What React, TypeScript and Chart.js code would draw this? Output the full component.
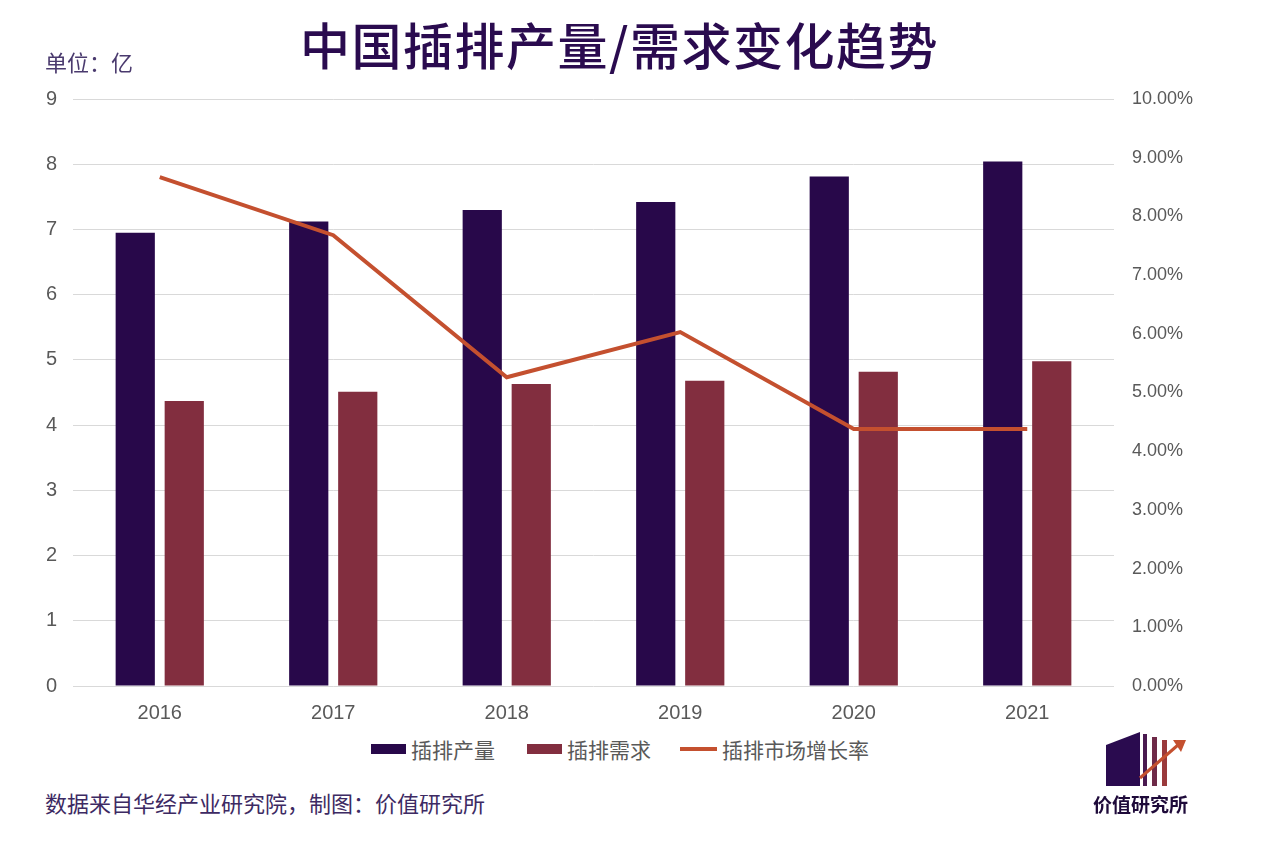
import { useEffect, useRef } from "react"
import { Chart, registerables } from "chart.js"

Chart.register(...registerables)

const years = ["2016", "2017", "2018", "2019", "2020", "2021"]
const output = [6.95, 7.12, 7.3, 7.42, 7.81, 8.04]
const demand = [4.37, 4.51, 4.63, 4.68, 4.82, 4.98]
const growth = [8.67, 7.68, 5.26, 6.03, 4.38, 4.38]

const outputColor = "#28084a"
const demandColor = "#822e3f"
const lineColor = "#c4502f"
const tickColor = "#595959"
const cjk = '"Noto Sans CJK SC", sans-serif'
const latin = '"Liberation Sans", Arial, sans-serif'

function GrowthChart() {
  const chartRef = useRef<HTMLCanvasElement>(null)
  const chartInstance = useRef<Chart | null>(null)

  useEffect(() => {
    if (!chartRef.current) return
    if (chartInstance.current) chartInstance.current.destroy()
    const ctx = chartRef.current.getContext("2d")
    if (!ctx) return

    chartInstance.current = new Chart(ctx, {
      type: "bar",
      data: {
        labels: years,
        datasets: [
          {
            type: "line",
            label: "插排市场增长率",
            data: growth,
            yAxisID: "y1",
            borderColor: lineColor,
            backgroundColor: lineColor,
            borderWidth: 4,
            pointRadius: 0,
            tension: 0,
            order: 0,
          },
          {
            label: "插排产量",
            data: output,
            yAxisID: "y",
            backgroundColor: outputColor,
            categoryPercentage: 0.565,
            barPercentage: 0.8,
            order: 1,
          },
          {
            label: "插排需求",
            data: demand,
            yAxisID: "y",
            backgroundColor: demandColor,
            categoryPercentage: 0.565,
            barPercentage: 0.8,
            order: 1,
          },
        ],
      },
      options: {
        responsive: false,
        animation: false,
        layout: { padding: { top: 99, left: 0, right: 0, bottom: 0 } },
        plugins: {
          legend: { display: false },
          tooltip: { enabled: false },
        },
        scales: {
          x: {
            grid: { display: false },
            border: { display: false },
            ticks: {
              color: tickColor,
              padding: 7,
              font: { family: latin, size: 20 },
            },
            afterFit: (scale) => {
              scale.height = 44
            },
          },
          y: {
            position: "left",
            min: 0,
            max: 9,
            grid: { color: "#d9d9d9", lineWidth: 1, drawTicks: false },
            border: { display: false },
            ticks: {
              stepSize: 1,
              color: tickColor,
              padding: 16,
              font: { family: latin, size: 20 },
            },
            afterFit: (scale) => {
              scale.width = 73
            },
          },
          y1: {
            position: "right",
            min: 0,
            max: 10,
            grid: { display: false, drawTicks: false },
            border: { display: false },
            ticks: {
              stepSize: 1,
              color: tickColor,
              padding: 18,
              font: { family: latin, size: 18 },
              callback: (v) => Number(v).toFixed(2) + "%",
            },
            afterFit: (scale) => {
              scale.width = 159
            },
          },
        },
      },
    })

    return () => {
      if (chartInstance.current) {
        chartInstance.current.destroy()
        chartInstance.current = null
      }
    }
  }, [])

  return (
    <canvas
      ref={chartRef}
      width={1273}
      height={730}
      style={{ position: "absolute", left: 0, top: 0, width: 1273, height: 730 }}
    />
  )
}

function Logo() {
  return (
    <div style={{ position: "absolute", left: 1088, top: 728, width: 110, height: 90 }}>
      <svg width="110" height="62" viewBox="0 0 110 62">
        <polygon points="18,17 52,4 52,58 18,58" fill="#2a0b4f" />
        <rect x="55" y="6" width="4" height="52" fill="#4a1a50" />
        <rect x="64" y="9" width="5" height="49" fill="#6e2a48" />
        <rect x="74" y="12" width="5" height="46" fill="#9a3a3c" />
        <line x1="52" y1="50" x2="90" y2="17" stroke="#c4502f" strokeWidth="3" />
        <polygon points="85,12 98,12 93,24" fill="#c4502f" />
      </svg>
      <div
        style={{
          fontFamily: cjk,
          fontWeight: 700,
          fontSize: 19,
          lineHeight: 1,
          color: "#1e0a3a",
          marginLeft: 5,
        }}
      >
        价值研究所
      </div>
    </div>
  )
}

function LegendItem({ left, color, label, line }: { left: number; color: string; label: string; line?: boolean }) {
  return (
    <div style={{ position: "absolute", left, top: 735, height: 28, display: "flex", alignItems: "center" }}>
      <span
        style={{
          display: "inline-block",
          width: line ? 37 : 35,
          height: line ? 4 : 10,
          background: color,
          marginRight: 5,
        }}
      />
      <span style={{ fontFamily: cjk, fontSize: 21, color: tickColor, lineHeight: 1 }}>{label}</span>
    </div>
  )
}

export default function App() {
  return (
    <div
      style={{
        position: "absolute",
        left: 0,
        top: 0,
        width: 1273,
        height: 841,
        background: "#ffffff",
        overflow: "hidden",
      }}
    >
      <GrowthChart />
      <div
        style={{
          position: "absolute",
          left: 300,
          top: 18,
          fontFamily: cjk,
          fontWeight: 500,
          fontSize: 50,
          lineHeight: 1,
          letterSpacing: 1.5,
          color: "#2a0b4f",
          whiteSpace: "nowrap",
        }}
      >
        中国插排产量/需求变化趋势
      </div>
      <div
        style={{
          position: "absolute",
          left: 45,
          top: 50,
          fontFamily: cjk,
          fontSize: 22,
          lineHeight: 1,
          color: "#4a3a6e",
          whiteSpace: "nowrap",
        }}
      >
        单位：亿
      </div>
      <LegendItem left={371} color={outputColor} label="插排产量" />
      <LegendItem left={527} color={demandColor} label="插排需求" />
      <LegendItem left={680} color={lineColor} label="插排市场增长率" line />
      <div
        style={{
          position: "absolute",
          left: 45,
          top: 791,
          fontFamily: cjk,
          fontSize: 22,
          lineHeight: 1,
          color: "#3d2a63",
          whiteSpace: "nowrap",
        }}
      >
        数据来自华经产业研究院，制图：价值研究所
      </div>
      <Logo />
    </div>
  )
}
